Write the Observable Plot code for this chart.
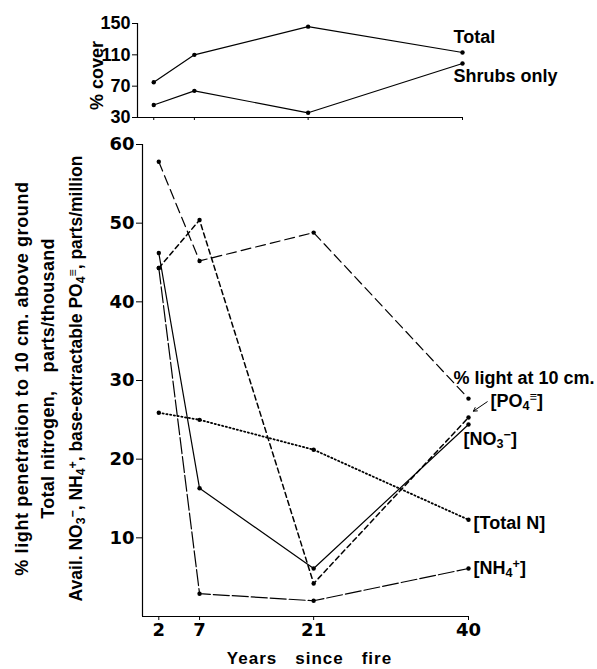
<!DOCTYPE html>
<html>
<head>
<meta charset="utf-8">
<script src="https://cdn.jsdelivr.net/npm/d3@7"></script>
<script src="https://cdn.jsdelivr.net/npm/@observablehq/plot@0.6"></script>
<style>
  html, body { margin: 0; padding: 0; background: #fff; }
  #chart svg { display: block; }
</style>
</head>
<body>
<div id="chart"></div>
<script>
// ---- data ----
const years = [2, 7, 21, 40];
const coverTotal = [75, 110, 146, 113];
const coverShrubs = [46, 64, 36, 99];
const lightPct = [57.8, 45.2, 48.8, 27.7];
const po4 = [44.3, 50.4, 4.2, 25.3];
const no3 = [46.2, 16.3, 6.1, 24.4];
const nh4 = [44.3, 2.9, 2.0, 6.1];
const totalN = [25.9, 25.0, 21.2, 12.3];
const coverTicks = [30, 70, 110, 150];
const mainTicks = [10, 20, 30, 40, 50, 60];
const coverNames = ["Total", "Shrubs only"];
const mainNames = ["% light at 10 cm.", "[PO_4^≡]", "[NO_3^−]", "[Total N]", "[NH_4^+]"];
const sideLabels = [
  "% light penetration to 10 cm. above ground",
  "Total nitrogen,\u2003parts/thousand",
  "Avail. NO_3^−, NH_4^+, base-extractable PO_4^≡, parts/million"
];
const xTitle = "Years\u2003since\u2003fire";
const coverTitle = "% cover";

const FONT = "'Liberation Sans', Arial, Helvetica, sans-serif";
const TICKFONT = "'DejaVu Sans', Verdana, sans-serif";

// ---- styles (kept apart from the data) ----
const coverSeries = [
  {values: coverTotal, name: coverNames[0], dx: -9, dy: -15},
  {values: coverShrubs, name: coverNames[1], dx: -9, dy: 13}
];
const mainSeries = [
  {values: lightPct, name: mainNames[0], dash: "10,5", w: 1.2, dx: -15, dy: -20},
  {values: po4, name: mainNames[1], dash: "5,3.5", w: 1.5, dx: 22, dy: -16},
  {values: no3, name: mainNames[2], dash: null, w: 1.2, dx: -5, dy: 15},
  {values: totalN, name: mainNames[3], dash: "1.2,2.6", w: 1.8, dx: 5, dy: 3},
  {values: nh4, name: mainNames[4], dash: "16,3", w: 1.2, dx: 5, dy: 0}
];
const sideStyle = [
  {dx: -120, size: 18, spacing: "0.6px"},
  {dx: -94, size: 18, spacing: "0.3px"},
  {dx: -66, size: 17.5, spacing: "0px"}
];

function rows(values) { return years.map((y, i) => ({x: y, y: values[i]})); }

// turn "_c" into a subscript and "^c" into a superscript
function richify(root) {
  d3.select(root).selectAll("text").each(function () {
    const s = this.textContent;
    if (!/[_^]/.test(s)) return;
    const sel = d3.select(this);
    sel.text(null);
    let buf = "";
    const flush = () => { if (buf) { sel.append("tspan").text(buf); buf = ""; } };
    for (let i = 0; i < s.length; i++) {
      const c = s[i];
      if ((c === "_" || c === "^") && i + 1 < s.length) {
        flush();
        sel.append("tspan")
          .attr("baseline-shift", c === "_" ? "-22%" : "45%")
          .attr("font-size", "70%")
          .text(s[i + 1]);
        i++;
      } else buf += c;
    }
    flush();
  });
}

function spacing(root, text, value) {
  d3.select(root).selectAll("text").filter(function () { return this.textContent === text; })
    .attr("letter-spacing", value);
}

// ---- top panel: % cover ----
const coverPlot = Plot.plot({
  width: 597, height: 130,
  marginLeft: 137, marginRight: 135, marginTop: 23, marginBottom: 13,
  x: {domain: [0, 40], label: null},
  y: {domain: [30, 150], label: null},
  style: {fontFamily: FONT, fontSize: "17px", fontWeight: "bold", color: "#000", background: "#fff"},
  marks: [
    Plot.ruleX([0], {stroke: "#000", strokeWidth: 1.2}),
    Plot.ruleY([30], {stroke: "#000", strokeWidth: 1.2}),
    Plot.axisY({ticks: coverTicks, tickSize: 5, tickPadding: 2, fontSize: 18, label: null, tickFormat: d => d}),
    Plot.axisX({ticks: years, tickSize: 3, tickFormat: () => "", label: null}),
    ...coverSeries.map(s => Plot.line(rows(s.values), {x: "x", y: "y", stroke: "#000", strokeWidth: 1.2})),
    ...coverSeries.map(s => Plot.dot(rows(s.values), {x: "x", y: "y", r: 2.2, fill: "#000"})),
    ...coverSeries.map(s => Plot.text([rows(s.values)[3]], {x: "x", y: "y", text: () => s.name, textAnchor: "start", dx: s.dx, dy: s.dy, fontSize: 18})),
    Plot.text([coverTitle], {text: d => d, frameAnchor: "left", textAnchor: "middle", rotate: -90, dx: -40, dy: 5, fontSize: 18})
  ]
});

// ---- main panel ----
const mainPlot = Plot.plot({
  width: 597, height: 539,
  marginLeft: 142, marginRight: 129, marginTop: 14, marginBottom: 53,
  x: {domain: [0, 40], label: null},
  y: {domain: [0, 60], label: null},
  style: {fontFamily: FONT, fontSize: "17px", fontWeight: "bold", color: "#000", background: "#fff"},
  marks: [
    Plot.ruleX([0], {stroke: "#000", strokeWidth: 1.2}),
    Plot.ruleY([0], {stroke: "#000", strokeWidth: 1.2}),
    Plot.axisY({ticks: mainTicks, tickSize: 6, tickPadding: 2, fontSize: 18, label: null, tickFormat: d => d}),
    Plot.axisX({ticks: years, tickSize: 4, tickPadding: 3, fontSize: 18, label: null, tickFormat: d => d}),
    ...mainSeries.map(s => Plot.line(rows(s.values), {x: "x", y: "y", stroke: "#000", strokeWidth: s.w, strokeDasharray: s.dash || undefined})),
    ...mainSeries.map(s => Plot.dot(rows(s.values), {x: "x", y: "y", r: 2.2, fill: "#000"})),
    ...mainSeries.map(s => Plot.text([rows(s.values)[3]], {x: "x", y: "y", text: () => s.name, textAnchor: "start", dx: s.dx, dy: s.dy, fontSize: 18})),
    Plot.arrow([{x1: 42.3, y1: 27.3, x2: 40.6, y2: 26.1}], {x1: "x1", y1: "y1", x2: "x2", y2: "y2", stroke: "#000", strokeWidth: 1, headLength: 6}),
    ...sideLabels.map((t, i) => Plot.text([t], {text: d => d, frameAnchor: "left", textAnchor: "middle", rotate: -90, dx: sideStyle[i].dx, dy: -2, fontSize: sideStyle[i].size})),
    Plot.text([xTitle], {text: d => d, frameAnchor: "bottom", textAnchor: "middle", dy: 47, dx: 4, fontSize: 17})
  ]
});

spacing(mainPlot, xTitle, "1px");
sideLabels.forEach((t, i) => spacing(mainPlot, t, sideStyle[i].spacing));
d3.select(mainPlot).selectAll("g[aria-label$='tick label'] text").attr("font-family", TICKFONT);
richify(coverPlot);
richify(mainPlot);
document.getElementById("chart").append(coverPlot, mainPlot);
</script>
</body>
</html>
